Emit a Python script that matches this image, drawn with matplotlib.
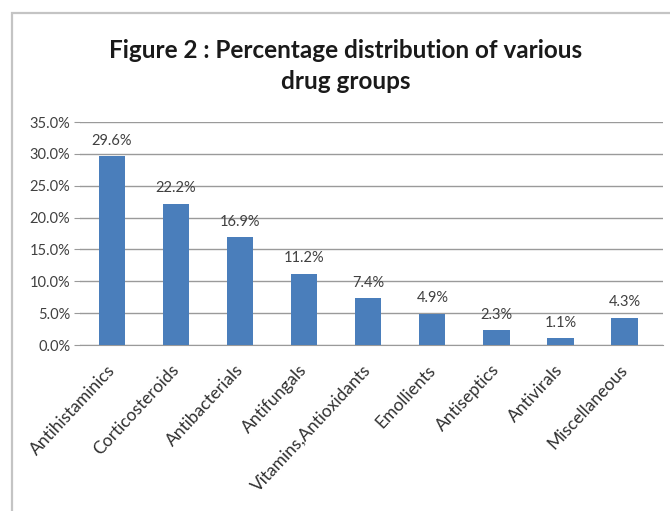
import matplotlib.pyplot as plt
from matplotlib.patches import Rectangle
import numpy as np

# Drug groups and their share of prescriptions (%)
groups = ["Antihistaminics", "Corticosteroids", "Antibacterials", "Antifungals",
          "Vitamins,Antioxidants", "Emollients", "Antiseptics", "Antivirals",
          "Miscellaneous"]
percent = [29.6, 22.2, 16.9, 11.2, 7.4, 4.9, 2.3, 1.1, 4.3]
y_ticks = [0, 5, 10, 15, 20, 25, 30, 35]

plt.rcParams['font.family'] = ['Lato', 'DejaVu Sans']

fig = plt.figure(figsize=(6.7, 5.11), dpi=100)

# Outer chart frame (gray border, open at right/bottom like the crop)
frame = Rectangle((12 / 670, -0.1), 1.2, 1 - 13 / 511 + 0.1,
                  transform=fig.transFigure, fill=False,
                  edgecolor="#c4c4c4", linewidth=1.6)
fig.patches.append(frame)

ax = fig.add_axes([80 / 670, 1 - 345 / 511, (663 - 80) / 670, (345 - 122) / 511])

x = np.arange(len(groups))
ax.bar(x, percent, width=0.41, color="#4a7ebb", zorder=3)

for xi, v in zip(x, percent):
    ax.text(xi, v + 1.3, f"{v:.1f}%", ha="center", va="bottom",
            fontsize=10.5, color="#404040")

ax.set_xlim(-0.5, len(groups) - 0.4)
ax.set_ylim(0, 35)
ax.set_yticks(y_ticks)
ax.set_yticklabels([f"{t:.1f}%" for t in y_ticks], fontsize=10.5, color="#404040")
ax.set_xticks(x)
ax.set_xticklabels(groups, rotation=47, ha="right", va="center",
                   rotation_mode="anchor", fontsize=12.5, color="#303030")

ax.yaxis.grid(True, color="#9a9a9a", linewidth=1.0, zorder=0)
ax.tick_params(axis="y", length=4, color="#9a9a9a", pad=3)
ax.tick_params(axis="x", length=0, pad=16)
for side in ["top", "right", "left"]:
    ax.spines[side].set_visible(False)
ax.spines["bottom"].set_color("#9a9a9a")

fig.text(0.516, 1 - 66 / 511, "Figure 2 : Percentage distribution of various\ndrug groups",
         ha="center", va="center", fontsize=17.5, fontweight="bold",
         color="#1a1a1a", linespacing=1.4)

fig.savefig("out.png", dpi=100)
